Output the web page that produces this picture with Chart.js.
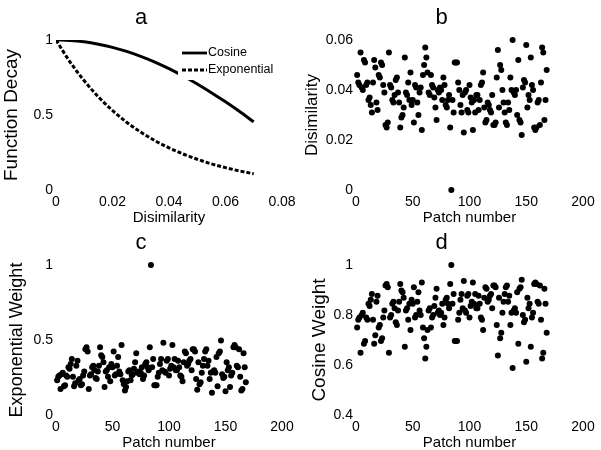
<!DOCTYPE html>
<html>
<head>
<meta charset="utf-8">
<script src="https://cdn.jsdelivr.net/npm/chart.js@4/dist/chart.umd.min.js"></script>
<style>
  body { margin: 0; background: #fff; }
  #wrap { position: relative; width: 601px; height: 450px; background: #fff; }
  canvas { position: absolute; }
</style>
</head>
<body>
<div id="wrap">
  <canvas id="chartA" width="300" height="225" style="left:0;top:0"></canvas>
  <canvas id="chartB" width="301" height="225" style="left:300px;top:0"></canvas>
  <canvas id="chartC" width="300" height="225" style="left:0;top:225px"></canvas>
  <canvas id="chartD" width="301" height="225" style="left:300px;top:225px"></canvas>
</div>
<script>
// panel a: decay functions
const dissimX = [0, 0.005, 0.01, 0.015, 0.02, 0.025, 0.03, 0.035, 0.04, 0.045, 0.05, 0.055, 0.06, 0.065, 0.07];
const cosineDecay = [1, 0.997, 0.988, 0.972, 0.951, 0.924, 0.891, 0.853, 0.809, 0.760, 0.707, 0.649, 0.588, 0.523, 0.454];
const expDecay = [1, 0.853, 0.728, 0.621, 0.530, 0.452, 0.386, 0.329, 0.281, 0.240, 0.205, 0.174, 0.149, 0.127, 0.108];

// panel b: dissimilarity per patch (patch number = index + 1)
const dissimilarity = [
  0.046, 0.043, 0.042, 0.055, 0.041, 0.040, 0.052, 0.051, 0.042, 0.043,
  0.036, 0.037, 0.034, 0.031, 0.043, 0.052, 0.049, 0.035, 0.032, 0.046,
  0.045, 0.051, 0.050, 0.042, 0.039, 0.026, 0.025, 0.027, 0.055, 0.042,
  0.041, 0.036, 0.035, 0.038, 0.044, 0.045, 0.039, 0.035, 0.025, 0.029,
  0.030, 0.033, 0.053, 0.039, 0.038, 0.043, 0.036, 0.047, 0.034, 0.036,
  0.027, 0.042, 0.041, 0.035, 0.030, 0.039, 0.041, 0.024, 0.046, 0.050,
  0.057, 0.053, 0.047, 0.039, 0.038, 0.046, 0.042, 0.041, 0.037, 0.033,
  0.028, 0.040, 0.039, 0.041, 0.040, 0.036, 0.045, 0.042, 0.034, 0.033,
  0.036, 0.038, 0.025, 0.000, 0.036, 0.031, 0.051, 0.051, 0.051, 0.043,
  0.040, 0.034, 0.031, 0.038, 0.023, 0.039, 0.040, 0.032, 0.031, 0.042,
  0.037, 0.035, 0.024, 0.036, 0.031, 0.038, 0.038, 0.032, 0.036, 0.042,
  0.043, 0.047, 0.033, 0.027, 0.028, 0.035, 0.034, 0.032, 0.031, 0.038,
  0.026, 0.026, 0.027, 0.045, 0.056, 0.033, 0.050, 0.048, 0.040, 0.035,
  0.031, 0.027, 0.026, 0.035, 0.032, 0.045, 0.040, 0.060, 0.039, 0.038,
  0.040, 0.030, 0.052, 0.028, 0.027, 0.022, 0.041, 0.044, 0.043, 0.058,
  0.033, 0.038, 0.036, 0.053, 0.042, 0.040, 0.025, 0.024, 0.025, 0.035,
  0.036, 0.026, 0.043, 0.057, 0.055, 0.028, 0.036, 0.048
];

// panel c: exponential weight per patch
const expWeight = [
  0.232, 0.255, 0.264, 0.174, 0.272, 0.281, 0.192, 0.198, 0.264, 0.255,
  0.319, 0.309, 0.340, 0.374, 0.255, 0.192, 0.211, 0.329, 0.362, 0.232,
  0.240, 0.198, 0.205, 0.264, 0.290, 0.438, 0.452, 0.424, 0.174, 0.264,
  0.272, 0.319, 0.329, 0.299, 0.247, 0.240, 0.290, 0.329, 0.452, 0.398,
  0.386, 0.351, 0.186, 0.290, 0.299, 0.255, 0.319, 0.225, 0.340, 0.319,
  0.424, 0.264, 0.272, 0.329, 0.386, 0.290, 0.272, 0.467, 0.232, 0.205,
  0.164, 0.186, 0.225, 0.290, 0.299, 0.232, 0.264, 0.272, 0.309, 0.351,
  0.411, 0.281, 0.290, 0.272, 0.281, 0.319, 0.240, 0.264, 0.340, 0.351,
  0.319, 0.299, 0.452, 1.000, 0.319, 0.374, 0.198, 0.198, 0.198, 0.255,
  0.281, 0.340, 0.374, 0.299, 0.482, 0.290, 0.281, 0.362, 0.374, 0.264,
  0.309, 0.329, 0.467, 0.319, 0.374, 0.299, 0.299, 0.362, 0.319, 0.264,
  0.255, 0.225, 0.351, 0.424, 0.411, 0.329, 0.340, 0.362, 0.374, 0.299,
  0.438, 0.438, 0.424, 0.240, 0.169, 0.351, 0.205, 0.218, 0.281, 0.329,
  0.374, 0.424, 0.438, 0.329, 0.362, 0.240, 0.281, 0.149, 0.290, 0.299,
  0.281, 0.386, 0.192, 0.411, 0.424, 0.497, 0.272, 0.247, 0.255, 0.159,
  0.351, 0.299, 0.319, 0.186, 0.264, 0.281, 0.452, 0.467, 0.452, 0.329,
  0.319, 0.438, 0.255, 0.164, 0.174, 0.411, 0.319, 0.218
];

// panel d: cosine weight per patch
const cosWeight = [
  0.750, 0.781, 0.790, 0.649, 0.800, 0.809, 0.685, 0.696, 0.790, 0.781,
  0.845, 0.836, 0.861, 0.884, 0.781, 0.685, 0.719, 0.853, 0.877, 0.750,
  0.760, 0.696, 0.707, 0.790, 0.818, 0.918, 0.924, 0.911, 0.649, 0.790,
  0.800, 0.845, 0.853, 0.827, 0.771, 0.760, 0.818, 0.853, 0.924, 0.898,
  0.891, 0.869, 0.673, 0.818, 0.827, 0.781, 0.845, 0.740, 0.861, 0.845,
  0.911, 0.790, 0.800, 0.853, 0.891, 0.818, 0.800, 0.930, 0.750, 0.707,
  0.626, 0.673, 0.740, 0.818, 0.827, 0.750, 0.790, 0.800, 0.836, 0.869,
  0.905, 0.809, 0.818, 0.800, 0.809, 0.845, 0.760, 0.790, 0.861, 0.869,
  0.845, 0.827, 0.924, 1.000, 0.845, 0.884, 0.696, 0.696, 0.696, 0.781,
  0.809, 0.861, 0.884, 0.827, 0.936, 0.818, 0.809, 0.877, 0.884, 0.790,
  0.836, 0.853, 0.930, 0.845, 0.884, 0.827, 0.827, 0.877, 0.845, 0.790,
  0.781, 0.740, 0.869, 0.911, 0.905, 0.853, 0.861, 0.877, 0.884, 0.827,
  0.918, 0.918, 0.911, 0.760, 0.638, 0.869, 0.707, 0.729, 0.809, 0.853,
  0.884, 0.911, 0.918, 0.853, 0.877, 0.760, 0.809, 0.588, 0.818, 0.827,
  0.809, 0.891, 0.685, 0.905, 0.911, 0.941, 0.800, 0.771, 0.781, 0.613,
  0.869, 0.827, 0.845, 0.673, 0.790, 0.809, 0.924, 0.930, 0.924, 0.853,
  0.845, 0.918, 0.781, 0.626, 0.649, 0.905, 0.845, 0.729
];

const FONT = "'Liberation Sans', Arial, sans-serif";
const legendLabels = ["Cosine", "Exponential"];

function toPoints(xs, ys) {
  return ys.map((y, i) => ({ x: xs[i], y: y }));
}
function byPatch(ys) {
  return ys.map((y, i) => ({ x: i + 1, y: y }));
}
function fmt(v) {
  return String(+Number(v).toFixed(2));
}

// legend box inside panel a (white box hides part of the cosine curve)
const insideLegend = {
  id: "insideLegend",
  afterDatasetsDraw(chart) {
    const ctx = chart.ctx;
    ctx.save();
    ctx.fillStyle = "#fff";
    ctx.fillRect(178, 43, 100, 37);
    ctx.strokeStyle = "#000";
    ctx.lineWidth = 2.8;
    ctx.beginPath();
    ctx.moveTo(182, 53); ctx.lineTo(207, 53);
    ctx.stroke();
    ctx.setLineDash([4, 2]);
    ctx.beginPath();
    ctx.moveTo(182, 70); ctx.lineTo(207, 70);
    ctx.stroke();
    ctx.setLineDash([]);
    ctx.fillStyle = "#000";
    ctx.font = "12.5px " + FONT;
    ctx.textBaseline = "middle";
    ctx.fillText(legendLabels[0], 208, 53);
    ctx.fillText(legendLabels[1], 208, 70);
    ctx.restore();
  }
};

function makePanel(id, title, xTitle, yTitle, xAxis, yAxis, datasets, yTitleStyle, plugins) {
  return new Chart(document.getElementById(id), {
    type: "scatter",
    data: { datasets: datasets },
    plugins: plugins || [],
    options: {
      responsive: false,
      animation: false,
      layout: { padding: { top: 0, right: 18, bottom: 0, left: 0 } },
      plugins: {
        legend: { display: false },
        tooltip: { enabled: false },
        title: {
          display: true,
          text: title,
          color: "#000",
          font: { family: FONT, size: 22, weight: "normal", lineHeight: 1.2 },
          padding: { top: 5, bottom: 8.6 }
        }
      },
      scales: {
        x: {
          type: "linear",
          min: xAxis[0], max: xAxis[1],
          grid: { display: false, drawTicks: false },
          border: { display: false },
          ticks: {
            stepSize: xAxis[2], color: "#000", padding: 4,
            font: { family: FONT, size: 14 }, maxRotation: 0,
            callback: fmt
          },
          title: {
            display: true, text: xTitle, color: "#000",
            font: { family: FONT, size: 15, lineHeight: 1 },
            padding: { top: 0, bottom: 0 }
          },
          afterFit(scale) { scale.height = 35; }
        },
        y: {
          type: "linear",
          min: yAxis[0], max: yAxis[1],
          grid: { display: false, drawTicks: false },
          border: { display: false },
          ticks: {
            stepSize: yAxis[2], color: "#000", padding: 3,
            font: { family: FONT, size: 14 },
            callback: fmt
          },
          title: {
            display: true, text: yTitle, color: "#000",
            font: { family: FONT, size: yTitleStyle[0], lineHeight: 1 },
            padding: { top: yTitleStyle[1], bottom: 0 }
          },
          afterFit(scale) { scale.width = 56; }
        }
      }
    }
  });
}

function dots(ys) {
  return [{
    data: byPatch(ys),
    pointRadius: 3,
    pointBackgroundColor: "#000",
    pointBorderWidth: 0,
    clip: false
  }];
}

makePanel("chartA", "a", "Disimilarity", "Function Decay", [0, 0.08, 0.02], [0, 1, 0.5], [
  {
    data: toPoints(dissimX, cosineDecay),
    showLine: true, borderColor: "#000", borderWidth: 3,
    pointRadius: 0, cubicInterpolationMode: "monotone"
  },
  {
    data: toPoints(dissimX, expDecay),
    showLine: true, borderColor: "#000", borderWidth: 3, borderDash: [4, 2],
    pointRadius: 0, cubicInterpolationMode: "monotone"
  }
], [19, 2.5], [insideLegend]);

makePanel("chartB", "b", "Patch number", "Disimilarity", [0, 200, 50], [0, 0.06, 0.02], dots(dissimilarity), [17, 3.5]);
makePanel("chartC", "c", "Patch number", "Exponential Weight", [0, 200, 50], [0, 1, 0.5], dots(expWeight), [18, 8]);
makePanel("chartD", "d", "Patch number", "Cosine Weight", [0, 200, 50], [0.4, 1, 0.2], dots(cosWeight), [19, 10.5]);
</script>
</body>
</html>
